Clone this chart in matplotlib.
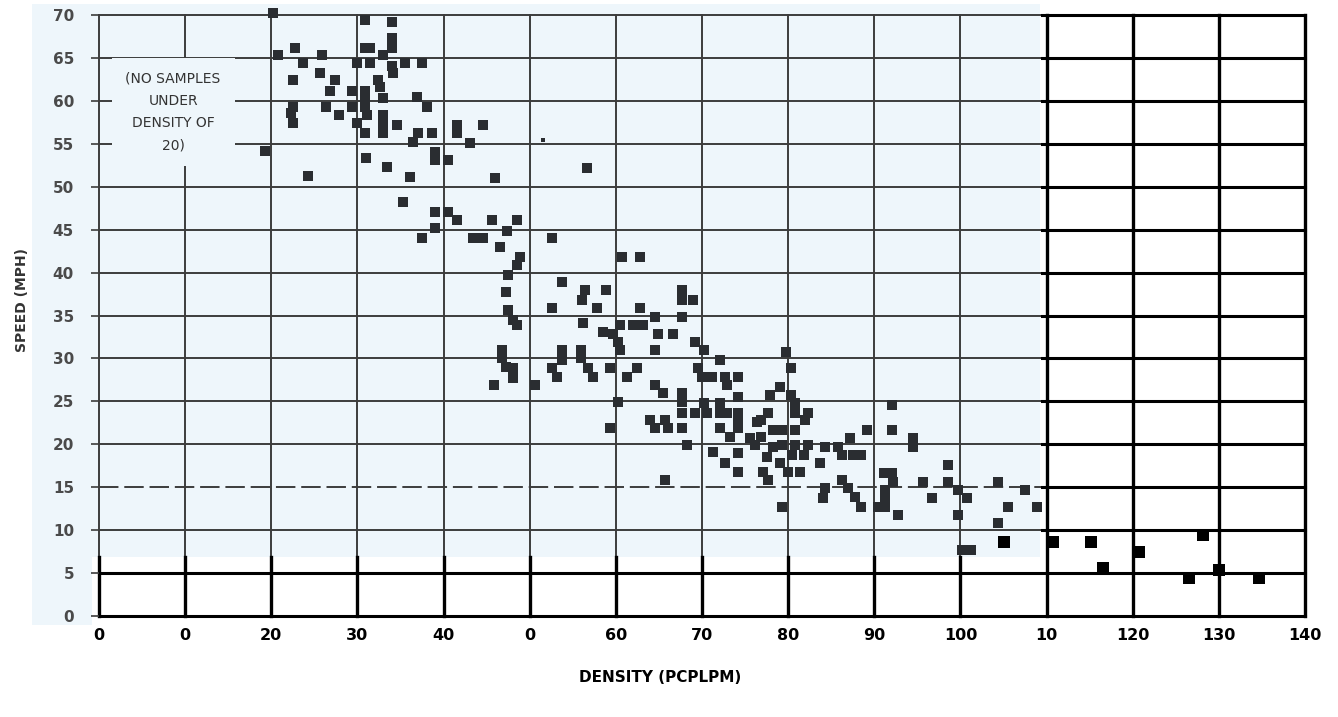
import numpy as np
import matplotlib.pyplot as plt
from matplotlib.patches import Rectangle

# speed-density samples (pcplpm, mph)
density = [
    20.2, 19.3, 20.8, 22.8, 23.7, 25.9, 22.5, 25.7, 27.4, 26.8, 26.4, 27.9, 22.5, 22.3, 22.5,
    24.3, 29.4, 29.4, 30.0, 30.9, 30.9, 31.5, 31.5, 30.9, 30.9, 30.9, 31.1, 30.0, 30.9, 31.0,
    34.0, 34.0, 34.0, 33.0, 34.0, 34.1, 35.5, 37.5, 32.4, 32.6, 33.0, 33.0, 33.0, 33.0, 34.6,
    33.4, 36.9, 38.1, 36.5, 37.0, 38.7, 36.1, 35.3, 39.0, 39.0, 40.5, 39.0, 40.5, 39.0, 37.5,
    41.6, 41.6, 44.6, 43.1, 46.0, 56.7, 41.6, 45.6, 48.5, 47.4, 43.4, 44.6, 46.6, 52.6, 48.9,
    48.5, 47.5, 47.2, 60.7, 62.8, 53.8, 56.4, 56.1, 58.8, 52.6, 57.8, 62.8, 64.6, 67.7, 67.7,
    69.0, 67.7, 47.5, 48.1, 48.5, 56.2, 60.5, 59.7, 60.2, 60.5, 62.0, 63.2, 58.5, 64.9, 66.6,
    64.6, 69.2, 70.2, 72.1, 79.7, 80.3, 46.8, 46.8, 47.2, 48.1, 48.1, 45.8, 50.6, 53.8, 53.8,
    52.6, 53.2, 55.9, 55.9, 56.8, 57.3, 59.3, 61.3, 62.5, 60.3, 69.5, 70.0, 71.2, 72.7, 74.2,
    72.9, 64.6, 65.5, 67.7, 67.7, 67.7, 69.2, 70.2, 70.6, 72.1, 72.1, 72.9, 74.2, 74.2, 74.2,
    74.2, 64.0, 64.6, 65.7, 66.1, 67.7, 59.3, 68.3, 72.1, 73.3, 71.3, 72.7, 74.2, 74.2, 75.6,
    76.8, 77.7, 76.8, 78.2, 79.3, 80.8, 78.2, 79.3, 80.8, 82.3, 84.3, 76.2, 77.6, 80.5, 81.8,
    79.1, 80.0, 81.4, 77.1, 77.7, 79.3, 83.7, 84.3, 84.0, 65.7, 77.9, 79.1, 80.3, 80.8, 80.8,
    82.3, 82.0, 76.4, 92.1, 89.2, 92.1, 87.2, 94.5, 94.5, 85.8, 86.3, 87.5, 88.4, 86.3, 86.9,
    87.8, 88.4, 91.1, 92.1, 92.2, 91.3, 91.3, 90.4, 91.3, 92.7, 95.7, 96.7, 98.6, 98.6, 99.7,
    100.8, 99.7, 100.2, 101.2, 104.4, 107.5, 105.5, 108.9, 104.4, 105.0, 110.7, 115.1, 116.6,
    120.7, 128.2, 126.5, 130.0, 134.7,
]
speed = [
    70.2, 54.2, 65.3, 66.2, 64.4, 65.3, 62.4, 63.3, 62.4, 61.2, 59.3, 58.3, 59.3, 58.6, 57.4,
    51.3, 61.2, 59.3, 64.4, 69.4, 66.2, 66.2, 64.4, 61.2, 60.3, 59.3, 58.3, 57.4, 56.3, 53.3,
    69.2, 67.3, 66.2, 65.3, 64.1, 63.3, 64.4, 64.4, 62.4, 61.6, 60.3, 58.3, 57.2, 56.2, 57.2,
    52.3, 60.4, 59.3, 55.2, 56.2, 56.2, 51.1, 48.2, 54.0, 53.1, 53.1, 47.0, 47.0, 45.2, 44.0,
    57.2, 56.2, 57.2, 55.1, 51.0, 52.2, 46.1, 46.1, 46.1, 44.9, 44.0, 44.0, 43.0, 44.0, 41.8,
    40.9, 39.7, 37.7, 41.8, 41.8, 38.9, 38.0, 36.8, 38.0, 35.9, 35.9, 35.9, 34.8, 38.0, 36.8,
    36.8, 34.8, 35.6, 34.5, 33.9, 34.1, 33.9, 32.9, 31.9, 31.0, 33.9, 33.9, 33.1, 32.9, 32.9,
    31.0, 31.9, 31.0, 29.8, 30.7, 28.9, 31.0, 30.0, 29.0, 28.9, 27.7, 26.9, 26.9, 31.0, 29.8,
    28.9, 27.8, 31.0, 30.0, 28.9, 27.8, 28.9, 27.8, 28.9, 24.9, 28.9, 27.8, 27.8, 27.8, 27.8,
    26.9, 26.9, 26.0, 26.0, 24.9, 23.7, 23.7, 24.8, 23.6, 24.8, 23.6, 23.6, 25.5, 23.7, 22.8,
    21.9, 22.8, 21.9, 22.8, 21.9, 21.9, 21.9, 19.9, 21.9, 20.8, 19.1, 17.8, 19.0, 16.8, 20.7,
    20.8, 23.7, 22.8, 21.7, 21.7, 21.7, 19.7, 19.9, 19.9, 19.9, 19.7, 19.9, 18.5, 18.7, 18.7,
    17.8, 16.8, 16.8, 16.8, 15.8, 12.7, 17.8, 14.9, 13.7, 15.8, 25.7, 26.7, 25.7, 24.8, 23.7,
    23.7, 22.8, 22.6, 24.6, 21.7, 21.7, 20.7, 20.7, 19.7, 19.7, 18.7, 18.7, 18.7, 15.8, 14.9,
    13.9, 12.7, 16.6, 16.6, 15.6, 14.7, 13.7, 12.7, 12.7, 11.8, 15.6, 13.7, 17.6, 15.6, 14.7,
    13.7, 11.8, 7.7, 7.7, 15.6, 14.7, 12.7, 12.7, 10.8, 8.6, 8.6, 8.6, 5.6,
    7.5, 9.4, 4.4, 5.4, 4.4,
]
stray_dot = ([51.6], [55.4])

x_ticks = list(range(0, 141, 10))
x_labels = ['0', '0', '20', '30', '40', '0', '60', '70', '80', '90', '100', '10', '120', '130', '140']
y_ticks = list(range(0, 71, 5))
y_labels = [str(v) for v in y_ticks]

note = '(NO SAMPLES\nUNDER\nDENSITY OF\n20)'

tint = '#eef6fb'
grey_line = '#3c3c3c'
x_tint, y_tint = 109.5, 6.9   # limits of the tinted part of the sheet

fig = plt.figure(figsize=(13.38, 7.17), dpi=100)
fig.patch.set_facecolor('white')
ax = fig.add_axes([99/1338, 1 - 616/717, (1305 - 99)/1338, (616 - 15)/717])
ax.set_facecolor('none')
ax.set_xlim(0, 140)
ax.set_ylim(0, 70)
for s in ax.spines.values():
    s.set_visible(False)

# tinted background behind the left part and the y labels
fig.patches.append(Rectangle((32/1338, 1 - 557/717), (1040 - 32)/1338, (557 - 4)/717,
                             transform=fig.transFigure, facecolor=tint, edgecolor='none', zorder=-5))
fig.patches.append(Rectangle((32/1338, 1 - 625/717), (92 - 32)/1338, 70/717,
                             transform=fig.transFigure, facecolor=tint, edgecolor='none', zorder=-5))

# grid: thin grey on the tinted part, heavy black elsewhere
for v in y_ticks:
    if v > y_tint:
        ls = (0, (10, 3)) if v == 15 else '-'
        ax.plot([0, x_tint], [v, v], color=grey_line, lw=1.4, ls=ls, zorder=1, clip_on=False)
        ax.plot([x_tint, 140], [v, v], color='black', lw=2.2, zorder=1, clip_on=False)
    else:
        ax.plot([0, 140], [v, v], color='black', lw=2.2, zorder=1, clip_on=False)
for v in x_ticks:
    if v < x_tint:
        ax.plot([v, v], [y_tint, 70], color=grey_line, lw=1.4, zorder=1, clip_on=False)
        ax.plot([v, v], [0, y_tint], color='black', lw=2.4, zorder=1, clip_on=False)
    else:
        ax.plot([v, v], [0, 70], color='black', lw=2.4, zorder=1, clip_on=False)

# samples
d = np.array(density)
sp = np.array(speed)
dark = (d > x_tint - 5) & (sp < 9.5)
ax.scatter(d[~dark], sp[~dark], marker='s', s=62, color='#2a2d31', linewidths=0, zorder=3, clip_on=False)
ax.scatter(d[dark], sp[dark], marker='s', s=80, color='black', linewidths=0, zorder=3, clip_on=False)
ax.scatter(*stray_dot, marker='s', s=6, color='#2a2d31', linewidths=0, zorder=3)

ax.text(8.6, 58.7, note, ha='center', va='center', fontsize=10, color='#333333',
        linespacing=1.75, zorder=2,
        bbox=dict(boxstyle='square,pad=1.0', facecolor=tint, edgecolor='none'))

ax.set_xticks(x_ticks)
ax.set_xticklabels(x_labels, fontsize=11.5, fontweight='bold', color='black')
ax.set_yticks(y_ticks)
ax.set_yticklabels(y_labels, fontsize=11, fontweight='bold', color='#4a4a4a')
ax.tick_params(axis='x', length=0, pad=9)
ax.tick_params(axis='y', length=6, width=1.2, color=grey_line, pad=12)

fig.text(22/1338, 1 - 300/717, 'SPEED (MPH)', rotation=90, ha='center', va='center',
         fontsize=10, fontweight='bold', color='#333333')
fig.text(660/1338, 1 - 677/717, 'DENSITY (PCPLPM)', ha='center', va='center',
         fontsize=11, fontweight='bold', color='black')

fig.savefig('out.png', dpi=100)
